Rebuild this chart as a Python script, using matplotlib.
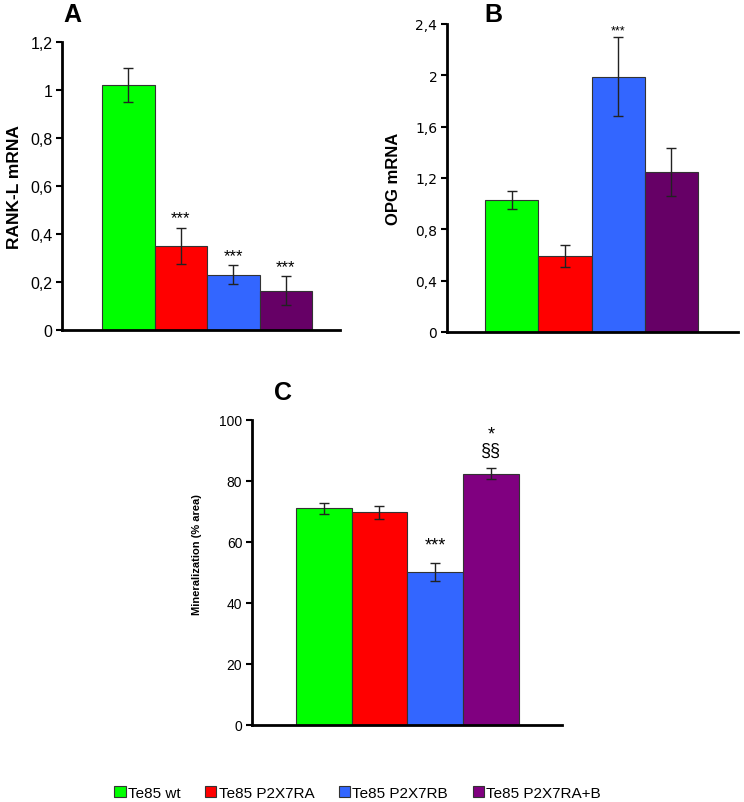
import matplotlib
matplotlib.use("Agg")
import matplotlib.pyplot as plt
import matplotlib.patches as mpatches

# Data
groups = ["Te85 wt", "Te85 P2X7RA", "Te85 P2X7RB", "Te85 P2X7RA+B"]

rankl_vals = [1.02, 0.35, 0.23, 0.164]
rankl_err = [0.07, 0.075, 0.04, 0.06]
rankl_sig = ["", "***", "***", "***"]
rankl_ticks = [0, 0.2, 0.4, 0.6, 0.8, 1.0, 1.2]
rankl_ticklabels = ["0", "0,2", "0,4", "0,6", "0,8", "1", "1,2"]

opg_vals = [1.03, 0.595, 1.99, 1.245]
opg_err = [0.068, 0.085, 0.31, 0.185]
opg_sig = ["", "", "***", ""]
opg_ticks = [0, 0.4, 0.8, 1.2, 1.6, 2.0, 2.4]
opg_ticklabels = ["0", "0,4", "0,8", "1,2", "1,6", "2", "2,4"]

min_vals = [71.0, 69.6, 50.1, 82.3]
min_err = [1.8, 2.1, 3.0, 1.8]
min_sig = ["", "", "***", "*\n§§"]
min_ticks = [0, 20, 40, 60, 80, 100]

colors_ab = ["#00FF00", "#FF0000", "#3366FF", "#660066"]
colors_c = ["#00FF00", "#FF0000", "#3366FF", "#800080"]

W, H = 744, 803
fig = plt.figure(figsize=(W / 100, H / 100), dpi=100)


def px_axes(left, right, top, bottom):
    return fig.add_axes([left / W, 1 - bottom / H, (right - left) / W, (bottom - top) / H])


def draw_panel(ax, vals, errs, sig, colors, ylim, xlim, ticks, ticklabels,
               ylabel, tick_font, tick_size, label_size, sig_size, sig_pad):
    x = range(len(vals))
    ax.bar(x, vals, width=1.0, color=colors, edgecolor="#333333", linewidth=0.8,
           yerr=errs, error_kw=dict(ecolor="#222222", elinewidth=1, capsize=3.5, capthick=1))
    for i, s in enumerate(sig):
        if s:
            ax.text(i, vals[i] + errs[i] + sig_pad, s, ha="center", va="bottom",
                    fontsize=sig_size, family="Liberation Sans", linespacing=1.0)
    ax.set_xlim(*xlim)
    ax.set_ylim(*ylim)
    ax.set_yticks(ticks)
    ax.set_yticklabels(ticklabels, family=tick_font, fontsize=tick_size)
    ax.set_xticks([])
    for side in ["top", "right"]:
        ax.spines[side].set_visible(False)
    for side in ["left", "bottom"]:
        ax.spines[side].set_linewidth(2)
    ax.tick_params(axis="y", direction="out", length=4, width=1.5, pad=3)
    ax.set_ylabel(ylabel, fontsize=label_size, fontweight="bold", family="Liberation Sans")
    ax.patch.set_alpha(0)


axA = px_axes(62, 340, 43, 331)
draw_panel(axA, rankl_vals, rankl_err, rankl_sig, colors_ab, (0, 1.2), (-1.262, 4.033),
           rankl_ticks, rankl_ticklabels, "RANK-L mRNA", "Liberation Sans", 11.5, 12.5, 12, 0.01)
axA.yaxis.labelpad = 6

axB = px_axes(447, 738, 25, 333)
draw_panel(axB, opg_vals, opg_err, opg_sig, colors_ab, (0, 2.4), (-1.214, 4.251),
           opg_ticks, opg_ticklabels, "OPG mRNA", "DejaVu Sans", 10, 12, 9, 0.0)
axB.yaxis.labelpad = 10

axC = px_axes(252, 562, 420.7, 725.7)
draw_panel(axC, min_vals, min_err, min_sig, colors_c, (0, 100), (-1.283, 4.27),
           min_ticks, [str(t) for t in min_ticks], "Mineralization (% area)",
           "Liberation Sans", 10, 8, 13, 3.0)
axC.yaxis.set_label_coords(-0.162, 0.56)

fig.text(72 / W, 1 - 15 / H, "A", fontsize=18, fontweight="bold", family="Liberation Sans",
         ha="center", va="center")
fig.text(493 / W, 1 - 15 / H, "B", fontsize=18, fontweight="bold", family="Liberation Sans",
         ha="center", va="center")
fig.text(283 / W, 1 - 393 / H, "C", fontsize=18, fontweight="bold", family="Liberation Sans",
         ha="center", va="center")

handles = [mpatches.Patch(facecolor=c, edgecolor="#333333", linewidth=0.8, label=g)
           for c, g in zip(colors_c, groups)]
fig.legend(handles=handles, loc="center", bbox_to_anchor=(0.4805, 1 - 794 / H), ncol=4,
           frameon=False, handlelength=0.75, handleheight=0.75, handletextpad=0.15,
           columnspacing=1.6, prop={"family": "Liberation Sans", "size": 11})

fig.savefig("out.png", dpi=100, facecolor="white")
